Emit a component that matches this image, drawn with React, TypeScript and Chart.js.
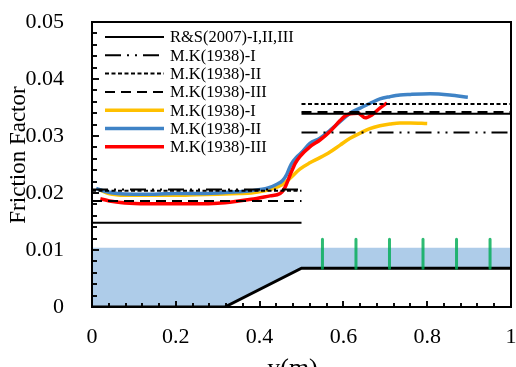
import React, { useEffect, useRef } from "react";
import { Chart, registerables } from "chart.js";

Chart.register(...registerables);

const SERIF = "'Liberation Serif', serif";

// Lateral position of the two channel sections (main channel / vegetated floodplain)
const LEFT_SPAN = [0, 0.5];
const RIGHT_SPAN = [0.5, 1];

// Axis ranges and ticks
const X_RANGE = [0, 1];
const Y_RANGE = [0, 0.05];
const X_STEP = 0.2;
const X_MINOR = 0.04;
const Y_STEP = 0.01;
const Y_MINOR = 0.002;

// Friction factor estimates, [left section, right section]
const RS_2007 = [0.0148, 0.0339];
const MK_I_EST = [0.0206, 0.0306];
const MK_II_EST = [0.0204, 0.0356];
const MK_III_EST = [0.0186, 0.0342];

// Lateral friction factor profiles
const MK_I_Y = [0.02, 0.04, 0.08, 0.15, 0.2, 0.25, 0.3, 0.35, 0.38, 0.42, 0.45, 0.473, 0.496, 0.52, 0.544, 0.568, 0.592, 0.616, 0.64, 0.663, 0.687, 0.711, 0.735, 0.76, 0.8];
const MK_I_F = [0.0205, 0.0199, 0.0196, 0.0196, 0.0196, 0.0197, 0.0198, 0.0199, 0.02, 0.0205, 0.0213, 0.0226, 0.0242, 0.0253, 0.0262, 0.0272, 0.0284, 0.0296, 0.0305, 0.0313, 0.0318, 0.0321, 0.0323, 0.0323, 0.0322];

const MK_II_Y = [0.01, 0.03, 0.06, 0.1, 0.15, 0.2, 0.25, 0.3, 0.35, 0.38, 0.42, 0.44, 0.455, 0.465, 0.475, 0.49, 0.5, 0.52, 0.544, 0.568, 0.592, 0.616, 0.64, 0.663, 0.687, 0.711, 0.735, 0.76, 0.807, 0.854, 0.897];
const MK_II_F = [0.0208, 0.0203, 0.0199, 0.0198, 0.0198, 0.0199, 0.0199, 0.02, 0.0202, 0.0204, 0.0209, 0.0215, 0.0222, 0.0233, 0.025, 0.0264, 0.0271, 0.0287, 0.0296, 0.031, 0.0325, 0.034, 0.0349, 0.0357, 0.0365, 0.0369, 0.0372, 0.0373, 0.0374, 0.0372, 0.0368];

const MK_III_Y = [0.02, 0.05, 0.09, 0.15, 0.2, 0.25, 0.3, 0.35, 0.38, 0.425, 0.449, 0.46, 0.473, 0.485, 0.496, 0.52, 0.544, 0.568, 0.592, 0.604, 0.616, 0.635, 0.652, 0.668, 0.687, 0.704];
const MK_III_F = [0.019, 0.0185, 0.0182, 0.0181, 0.0181, 0.0181, 0.0182, 0.0186, 0.0189, 0.0195, 0.0199, 0.0209, 0.0232, 0.0252, 0.0264, 0.0281, 0.0293, 0.0308, 0.0327, 0.0335, 0.0339, 0.034, 0.0332, 0.0337, 0.0349, 0.0358];

// Channel cross-section sketch
const BED_Y = [0, 0.317, 0.5, 1];
const BED_Z = [0, 0, 0.0068, 0.0068];
const WATER_LEVEL = 0.0104;
const STEM_Y = [0.55, 0.63, 0.71, 0.79, 0.87, 0.95];
const STEM_TOP = 0.0119;

const pts = (xs: number[], ys: number[]) => xs.map((x, i) => ({ x, y: ys[i] }));
const twoPart = (v: number[]) => [
  { x: LEFT_SPAN[0], y: v[0] },
  { x: LEFT_SPAN[1], y: v[0] },
  { x: LEFT_SPAN[1], y: null },
  { x: RIGHT_SPAN[0], y: v[1] },
  { x: RIGHT_SPAN[1], y: v[1] },
];
const stems = () => {
  const out: { x: number; y: number | null }[] = [];
  STEM_Y.forEach((x) => {
    out.push({ x, y: BED_Z[BED_Z.length - 1] }, { x, y: STEM_TOP }, { x, y: null });
  });
  return out;
};
// closed outline of the plotting box
const boxOutline = () => [
  { x: X_RANGE[0], y: Y_RANGE[0] },
  { x: X_RANGE[1], y: Y_RANGE[0] },
  { x: X_RANGE[1], y: Y_RANGE[1] },
  { x: X_RANGE[0], y: Y_RANGE[1] },
  { x: X_RANGE[0], y: Y_RANGE[0] },
];

// dataset indices shown in the legend, top to bottom
const LEGEND_ORDER = [6, 7, 8, 9, 3, 4, 5];

export default function App() {
  const ref = useRef<HTMLCanvasElement>(null);

  useEffect(() => {
    const canvas = ref.current;
    if (!canvas) return;

    const ticksAndFrame = (chart: any) => {
      const { ctx, scales } = chart;
      const xs = scales.x;
      const ys = scales.y;
      const left = xs.getPixelForValue(X_RANGE[0]);
      const right = xs.getPixelForValue(X_RANGE[1]);
      const top = ys.getPixelForValue(Y_RANGE[1]);
      const bottom = ys.getPixelForValue(Y_RANGE[0]);
      ctx.save();
      ctx.setLineDash([]);
      ctx.globalAlpha = 1;
      ctx.globalCompositeOperation = "source-over";
      ctx.fillStyle = "#000";
      ctx.fillRect(left - 1, top - 1, right - left + 2, 2);
      ctx.fillRect(right - 1, top - 1, 2, bottom - top + 2);
      ctx.fillRect(left - 1, top - 1, 2, bottom - top + 2);
      ctx.fillRect(left - 1, bottom - 1, right - left + 2, 2);
      for (let i = 0; i <= Math.round((X_RANGE[1] - X_RANGE[0]) / X_MINOR); i++) {
        const v = X_RANGE[0] + i * X_MINOR;
        const major = Math.abs(v / X_STEP - Math.round(v / X_STEP)) < 1e-6;
        const px = Math.round(xs.getPixelForValue(v));
        ctx.fillRect(px - 0.75, bottom - (major ? 6 : 4), 1.5, major ? 6 : 4);
      }
      for (let i = 0; i <= Math.round((Y_RANGE[1] - Y_RANGE[0]) / Y_MINOR); i++) {
        const v = Y_RANGE[0] + i * Y_MINOR;
        const major = Math.abs(v / Y_STEP - Math.round(v / Y_STEP)) < 1e-6;
        const py = Math.round(ys.getPixelForValue(v));
        ctx.fillRect(left, py - 0.75, major ? 7 : 5, 1.5);
      }
      ctx.restore();
    };

    const legendAndTitles = (chart: any) => {
      const { ctx, data } = chart;
      ctx.save();
      LEGEND_ORDER.forEach((idx, i) => {
        const ds = data.datasets[idx];
        const y = 37 + i * 18.3;
        ctx.beginPath();
        ctx.setLineDash(ds.borderDash || []);
        ctx.strokeStyle = ds.borderColor;
        ctx.lineWidth = ds.borderWidth;
        ctx.moveTo(105, y);
        ctx.lineTo(164, y);
        ctx.stroke();
        ctx.setLineDash([]);
        ctx.fillStyle = "#000";
        ctx.font = `16.5px ${SERIF}`;
        ctx.textAlign = "left";
        ctx.textBaseline = "middle";
        ctx.fillText(ds.label, 170, y + 1);
      });
      ctx.fillStyle = "#000";
      ctx.textAlign = "center";
      ctx.textBaseline = "alphabetic";
      ctx.font = `23px ${SERIF}`;
      ctx.save();
      ctx.translate(25, 155);
      ctx.rotate(-Math.PI / 2);
      ctx.fillText("Friction Factor", 0, 0);
      ctx.restore();
      ctx.font = `26px ${SERIF}`;
      ctx.fillText("y(m)", 292.5, 376);
      ctx.restore();
    };

    const decor = {
      id: "decor",
      afterDatasetsDraw(chart: any) {
        ticksAndFrame(chart);
      },
      afterDraw(chart: any) {
        ticksAndFrame(chart);
        legendAndTitles(chart);
      },
    };

    const refLine = (label: string, v: number[], dash: number[], order: number) => ({
      label,
      data: twoPart(v),
      borderColor: "#000",
      borderWidth: 2,
      borderDash: dash,
      pointRadius: 0,
      fill: false,
      spanGaps: false,
      order,
    });
    const curve = (label: string, xs: number[], ys: number[], color: string, order: number) => ({
      label,
      data: pts(xs, ys),
      borderColor: color,
      borderWidth: 3.5,
      pointRadius: 0,
      fill: false,
      cubicInterpolationMode: "monotone",
      order,
    });

    const datasets: any[] = [
      {
        label: "water",
        data: [
          { x: X_RANGE[0], y: WATER_LEVEL },
          { x: X_RANGE[1], y: WATER_LEVEL },
        ],
        borderWidth: 0,
        borderColor: "rgba(0,0,0,0)",
        backgroundColor: "rgb(174,204,233)",
        pointRadius: 0,
        fill: "+1",
        order: 100,
      },
      {
        label: "bed",
        data: pts(BED_Y, BED_Z),
        borderColor: "#000",
        borderWidth: 3,
        pointRadius: 0,
        fill: false,
        order: 90,
      },
      {
        label: "stems",
        data: stems(),
        borderColor: "rgba(0,172,85,0.82)",
        borderWidth: 3,
        borderCapStyle: "round",
        pointRadius: 0,
        fill: false,
        spanGaps: false,
        order: 80,
      },
      curve("M.K(1938)-I", MK_I_Y, MK_I_F, "#FFC000", 30),
      curve("M.K(1938)-II", MK_II_Y, MK_II_F, "#3F83C6", 20),
      curve("M.K(1938)-III", MK_III_Y, MK_III_F, "#FF0000", 10),
      refLine("R&S(2007)-I,II,III", RS_2007, [], 5),
      refLine("M.K(1938)-I", MK_I_EST, [16, 6, 2, 6, 2, 6], 4),
      refLine("M.K(1938)-II", MK_II_EST, [4, 2.5], 3),
      refLine("M.K(1938)-III", MK_III_EST, [10, 6], 2),
      {
        label: "box",
        data: boxOutline(),
        borderColor: "#000",
        borderWidth: 2,
        pointRadius: 0,
        fill: false,
        clip: false,
        order: 0,
      },
    ];

    const chart = new Chart(canvas, {
      type: "line",
      data: { datasets },
      options: {
        animation: false,
        responsive: false,
        devicePixelRatio: 1,
        layout: { padding: { top: 22, right: 5, left: 0, bottom: 0 } },
        plugins: {
          legend: { display: false },
          tooltip: { enabled: false },
          filler: { propagate: false, drawTime: "beforeDatasetsDraw" },
        },
        scales: {
          x: {
            type: "linear",
            min: X_RANGE[0],
            max: X_RANGE[1],
            grid: { display: false },
            border: { display: true, color: "#000", width: 2 },
            ticks: {
              stepSize: X_STEP,
              autoSkip: false,
              maxRotation: 0,
              padding: 9,
              color: "#000",
              font: { family: SERIF, size: 22 },
              callback: (v: any) => Number(Number(v).toFixed(1)).toString(),
            },
            afterFit: (s: any) => {
              s.height = 60;
              s.paddingLeft = 0;
              s.paddingRight = 0;
            },
          },
          y: {
            type: "linear",
            min: Y_RANGE[0],
            max: Y_RANGE[1],
            grid: { display: false },
            border: { display: true, color: "#000", width: 2 },
            ticks: {
              stepSize: Y_STEP,
              autoSkip: false,
              padding: 20,
              color: "#000",
              font: { family: SERIF, size: 22 },
              callback: (v: any) => Number(Number(v).toFixed(2)).toString(),
            },
            afterFit: (s: any) => {
              s.width = 92;
              s.paddingTop = 0;
              s.paddingBottom = 0;
            },
          },
        },
      } as any,
      plugins: [decor],
    });
    return () => chart.destroy();
  }, []);

  return (
    <div style={{ position: "absolute", left: 0, top: 0, width: 516, height: 367, background: "#fff" }}>
      <canvas ref={ref} width={516} height={367} style={{ display: "block" }} />
    </div>
  );
}
